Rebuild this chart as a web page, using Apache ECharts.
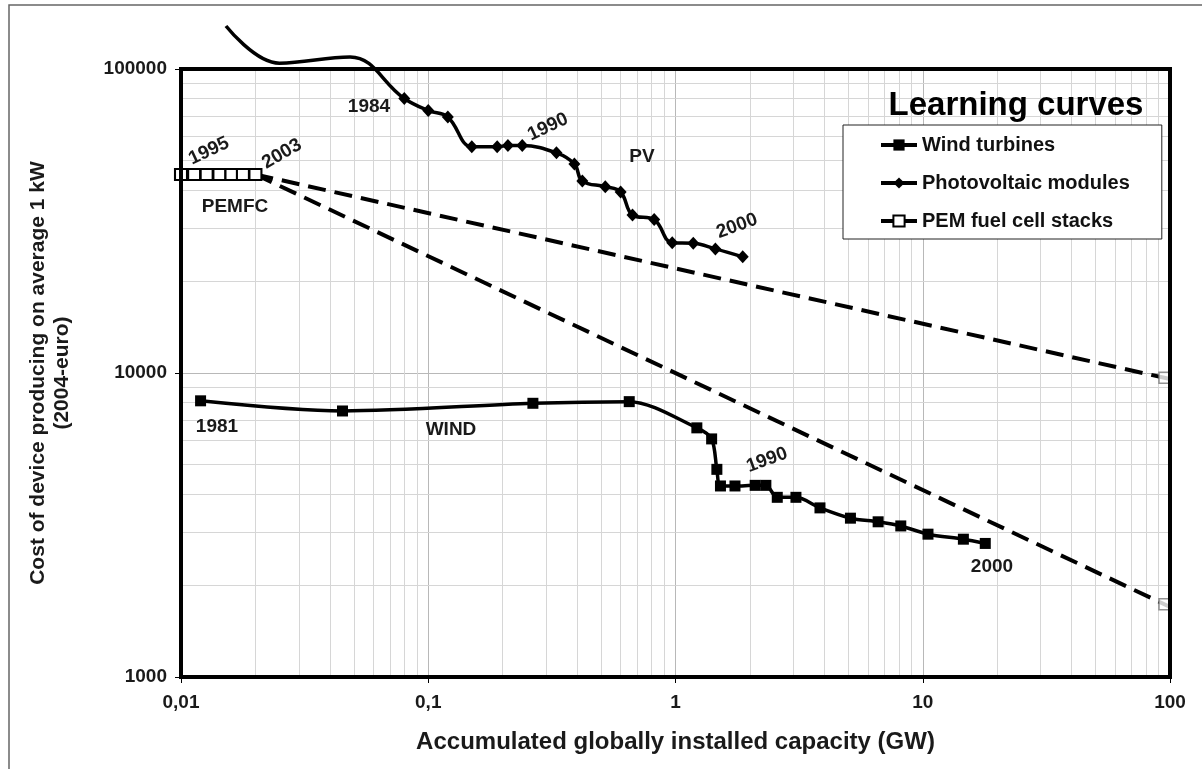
<!DOCTYPE html>
<html>
<head>
<meta charset="utf-8">
<script src="https://cdn.jsdelivr.net/npm/echarts@6/dist/echarts.min.js"></script>
<style>
  html, body { margin: 0; padding: 0; background: #fff; }
  #chart { width: 1202px; height: 769px; }
</style>
</head>
<body>
<div id="chart"></div>
<script>
// accumulated capacity (GW) and cost (2004-euro)
var windX = [0.012, 0.045, 0.265, 0.65, 1.22, 1.40, 1.47, 1.52, 1.74, 2.10, 2.32, 2.58, 3.07, 3.84, 5.1, 6.6, 8.15, 10.5, 14.6, 17.9];
var windY = [8100, 7500, 7950, 8050, 6600, 6070, 4820, 4250, 4250, 4270, 4270, 3900, 3900, 3600, 3330, 3240, 3140, 2950, 2840, 2750];

// the first PV points sit above the plot top, drawn without markers
var pvX = [0.0152, 0.025, 0.0483, 0.08, 0.10, 0.12, 0.15, 0.19, 0.21, 0.24, 0.33, 0.39, 0.42, 0.52, 0.60, 0.67, 0.82, 0.97, 1.18, 1.45, 1.87];
var pvY = [138500, 104500, 109500, 80000, 73000, 69500, 55500, 55500, 56000, 56000, 53000, 48700, 42800, 41000, 39400, 33100, 32000, 26800, 26700, 25600, 24100];
var pvNoMarker = 3;

var pemX = [0.0100, 0.0113, 0.0127, 0.0143, 0.0160, 0.0178, 0.0200];
var pemY = [45000, 45000, 45000, 45000, 45000, 45000, 45000];

// PEMFC projections out to 100 GW
var projUpperX = [0.02, 100];
var projUpperY = [45000, 9550];
var projLowerX = [0.02, 100];
var projLowerY = [45000, 1700];
var projMarkX = [95, 95];
var projMarkY = [9640, 1735];

var xTicks = [0.01, 0.1, 1, 10, 100];
var xTickLabels = ['0,01', '0,1', '1', '10', '100'];
var yTicks = [1000, 10000, 100000];
var yTickLabels = ['1000', '10000', '100000'];

var gridMult = [2, 3, 4, 5, 6, 7, 8, 9];
var xDecades = [0.01, 0.1, 1, 10];
var yDecades = [1000, 10000];

function zip(xs, ys) {
  return xs.map(function (x, i) { return [x, ys[i]]; });
}

function tickLabel(ticks, labels) {
  return function (v) {
    for (var i = 0; i < ticks.length; i++) {
      if (Math.abs(Math.log10(v) - Math.log10(ticks[i])) < 0.01) return labels[i];
    }
    return '';
  };
}

var minorLines = [];
xDecades.forEach(function (d) {
  gridMult.forEach(function (m) { minorLines.push({ xAxis: +(d * m).toPrecision(3) }); });
});
yDecades.forEach(function (d) {
  gridMult.forEach(function (m) { minorLines.push({ yAxis: d * m }); });
});

var pvData = zip(pvX, pvY).map(function (p, i) {
  return i < pvNoMarker ? { value: p, symbol: 'none' } : { value: p };
});

var font = "'Liberation Sans', Arial, sans-serif";
var txt = '#1a1a1a';

function note(text, x, y, rot) {
  return {
    type: 'text', x: x, y: y, rotation: (rot || 0) * Math.PI / 180, z: 50,
    style: { text: text, fill: txt, font: 'bold 19px ' + font, align: 'center', verticalAlign: 'middle' }
  };
}

var chart = echarts.init(document.getElementById('chart'));
var option = {
  animation: false,
  backgroundColor: '#fff',
  textStyle: { fontFamily: font },
  grid: { left: 181, top: 69, right: 32, bottom: 92 },
  xAxis: {
    type: 'log', logBase: 10, min: 0.01, max: 100,
    name: 'Accumulated globally installed capacity (GW)',
    nameLocation: 'middle', nameGap: 53,
    nameTextStyle: { fontSize: 24, fontWeight: 'bold', color: txt },
    axisLine: { show: false },
    axisTick: { show: true, inside: false, length: 6, lineStyle: { color: '#000' } },
    axisLabel: { margin: 16, fontSize: 19, fontWeight: 'bold', color: txt, formatter: tickLabel(xTicks, xTickLabels) },
    splitLine: { show: true, lineStyle: { color: '#b8b8b8', width: 1 } }
  },
  yAxis: {
    type: 'log', logBase: 10, min: 1000, max: 100000,
    name: 'Cost of device producing on average 1 kW\n(2004-euro)',
    nameLocation: 'middle', nameGap: 107,
    nameTextStyle: { fontSize: 21, fontWeight: 'bold', color: txt, lineHeight: 24, align: 'center' },
    axisLine: { show: false },
    axisTick: { show: true, inside: false, length: 6, lineStyle: { color: '#000' } },
    axisLabel: { margin: 14, fontSize: 19, fontWeight: 'bold', color: txt, formatter: tickLabel(yTicks, yTickLabels) },
    splitLine: { show: true, lineStyle: { color: '#b8b8b8', width: 1 } }
  },
  legend: {
    data: ['Wind turbines', 'Photovoltaic modules', 'PEM fuel cell stacks'],
    orient: 'vertical', left: 843, top: 125, z: 60,
    itemWidth: 36, itemHeight: 14, itemGap: 18,
    padding: [10, 32, 8, 36],
    borderColor: '#222', borderWidth: 1, backgroundColor: '#fff',
    lineStyle: { width: 4, color: '#000' },
    textStyle: { fontSize: 20, fontWeight: 'bold', color: '#111' }
  },
  series: [
    {
      name: 'grid', type: 'line', data: [[1, 10000]], symbol: 'none',
      lineStyle: { opacity: 0 }, silent: true, z: 1,
      markLine: {
        silent: true, symbol: 'none', label: { show: false }, z: 1,
        lineStyle: { color: '#d6d6d6', width: 1, type: 'solid' },
        data: minorLines
      }
    },
    {
      name: 'upper', type: 'line', data: zip(projUpperX, projUpperY), symbol: 'none', z: 3,
      lineStyle: { color: '#000', width: 4, type: [18, 9] }
    },
    {
      name: 'lower', type: 'line', data: zip(projLowerX, projLowerY), symbol: 'none', z: 3,
      lineStyle: { color: '#000', width: 4, type: [18, 9] }
    },
    {
      name: 'marks', type: 'scatter', data: zip(projMarkX, projMarkY), symbol: 'rect', symbolSize: [11, 11], z: 4,
      itemStyle: { color: '#fff', borderColor: '#777', borderWidth: 1.5 }
    },
    {
      name: 'Wind turbines', type: 'line', data: zip(windX, windY), smooth: 0.3,
      symbol: 'rect', symbolSize: 11, showAllSymbol: true, z: 5,
      lineStyle: { color: '#000', width: 3.5 }, itemStyle: { color: '#000' }
    },
    {
      name: 'Photovoltaic modules', type: 'line', data: pvData, smooth: 0.4, clip: false,
      symbol: 'diamond', symbolSize: [12, 13], showAllSymbol: true, z: 5,
      lineStyle: { color: '#000', width: 3.5 }, itemStyle: { color: '#000' }
    },
    {
      name: 'PEM fuel cell stacks', type: 'line', data: zip(pemX, pemY), clip: false,
      symbol: 'rect', symbolSize: [12, 11], showAllSymbol: true, z: 6,
      lineStyle: { color: '#000', width: 3 },
      itemStyle: { color: '#fff', borderColor: '#000', borderWidth: 2 }
    }
  ],
  graphic: [
    { type: 'polyline', shape: { points: [[9, 769], [9, 5], [1202, 5]] }, style: { stroke: '#666', lineWidth: 1.5, fill: null }, z: 0 },
    { type: 'rect', shape: { x: 181, y: 69, width: 989, height: 608 }, style: { fill: null, stroke: '#000', lineWidth: 4 }, z: 100 },
    {
      type: 'text', x: 1016, y: 106, z: 50,
      style: { text: 'Learning curves', fill: '#000', font: 'bold 33px ' + font, align: 'center', verticalAlign: 'middle' }
    },
    note('1984', 369, 107),
    note('1990', 548, 127, 25),
    note('PV', 642, 157),
    note('2000', 737, 226, 20),
    note('1995', 209, 151, 25),
    note('2003', 282, 154, 30),
    note('PEMFC', 235, 207),
    note('1981', 217, 427),
    note('WIND', 451, 430),
    note('1990', 767, 460, 20),
    note('2000', 992, 567)
  ]
};
chart.setOption(option);
</script>
</body>
</html>
